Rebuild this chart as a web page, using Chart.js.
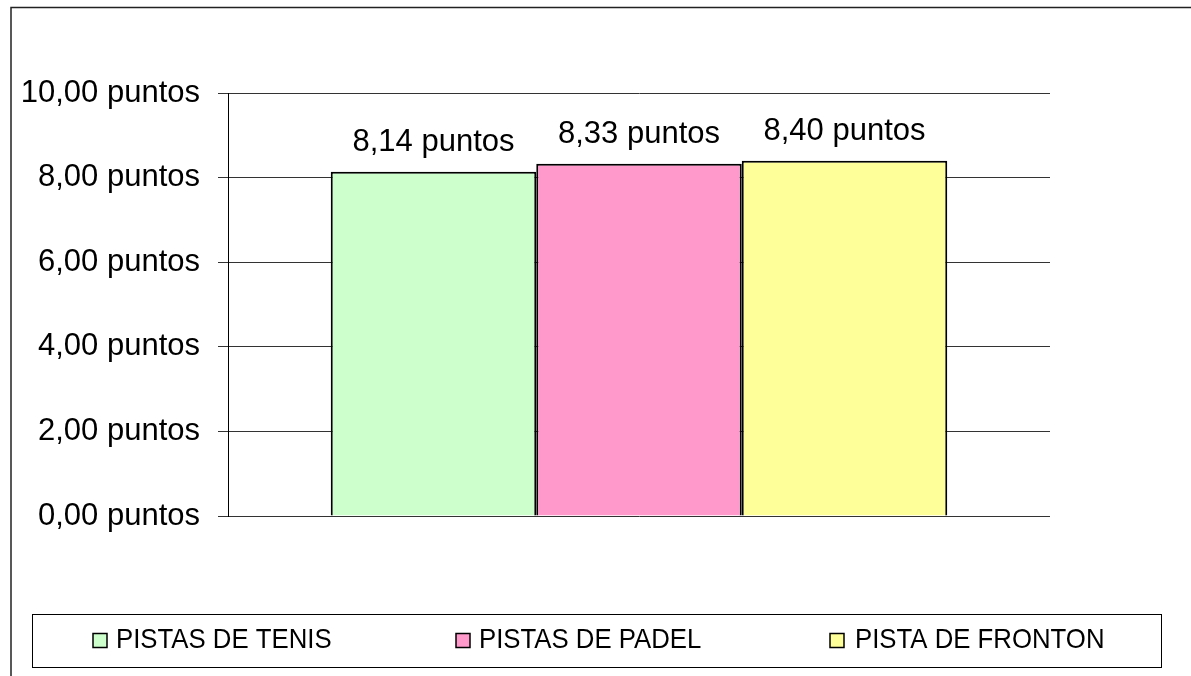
<!DOCTYPE html>
<html>
<head>
<meta charset="utf-8">
<script src="https://cdn.jsdelivr.net/npm/chart.js@4.4.1/dist/chart.umd.min.js"></script>
<style>
    html, body { margin: 0; padding: 0; background: #fff; }
    #wrap { width: 1191px; height: 676px; }
</style>
</head>
<body>
<div id="wrap"><canvas id="puntosChart" width="1191" height="676"></canvas></div>
<script>
// Datos del grafico
const categories = [''];
const seriesNames = ['PISTAS DE TENIS', 'PISTAS DE PADEL', 'PISTA DE FRONTON'];
const seriesValues = [8.14, 8.33, 8.40];
const yTicks = [0, 2, 4, 6, 8, 10];

const fillColors = ['#CCFFCC', '#FF99CC', '#FFFF99'];
const FONT = '"Liberation Sans", Arial, sans-serif';

const fmtPuntos = v => v.toFixed(2).replace('.', ',') + ' puntos';

// Marco exterior (recortado a derecha y abajo como en el original)
const framePlugin = {
    id: 'frame',
    beforeDraw(chart) {
        const ctx = chart.ctx;
        ctx.save();
        ctx.fillStyle = '#fff';
        ctx.fillRect(0, 0, chart.width, chart.height);
        ctx.strokeStyle = '#222';
        ctx.lineWidth = 1.5;
        ctx.strokeRect(11, 7.5, 1400, 1000);
        ctx.restore();
    }
};

// Etiquetas encima de cada barra
const valueLabels = {
    id: 'valueLabels',
    afterDatasetsDraw(chart) {
        const ctx = chart.ctx;
        ctx.save();
        ctx.font = '31px ' + FONT;
        ctx.fillStyle = '#000';
        ctx.textAlign = 'center';
        ctx.textBaseline = 'alphabetic';
        chart.data.datasets.forEach((ds, i) => {
            const bar = chart.getDatasetMeta(i).data[0];
            ctx.fillText(fmtPuntos(ds.data[0]), bar.x, bar.y - 21);
        });
        ctx.restore();
    }
};

// Leyenda con recuadro, estilo Excel
const boxLegend = {
    id: 'boxLegend',
    afterDraw(chart) {
        const ctx = chart.ctx;
        const boxX = [93, 456, 830];
        const textX = [116, 479, 855];
        ctx.save();
        ctx.strokeStyle = '#000';
        ctx.lineWidth = 1;
        ctx.strokeRect(32.5, 614.5, 1129, 53);
        ctx.font = '28px ' + FONT;
        ctx.textBaseline = 'alphabetic';
        chart.data.datasets.forEach((ds, i) => {
            const x = boxX[i];
            ctx.fillStyle = ds.backgroundColor;
            ctx.fillRect(x, 633.5, 14, 14);
            ctx.strokeStyle = '#000';
            ctx.lineWidth = 1.5;
            ctx.strokeRect(x, 633.5, 14, 14);
            ctx.fillStyle = '#000';
            ctx.save();
            ctx.translate(textX[i], 648);
            ctx.scale(0.92, 1);
            ctx.fillText(ds.label, 0, 0);
            ctx.restore();
        });
        ctx.restore();
    }
};

new Chart(document.getElementById('puntosChart'), {
    type: 'bar',
    data: {
        labels: categories,
        datasets: seriesNames.map((name, i) => ({
            label: name,
            data: [seriesValues[i]],
            backgroundColor: fillColors[i],
            borderColor: '#000',
            borderWidth: 2,
            categoryPercentage: 0.75,
            barPercentage: 1
        }))
    },
    options: {
        responsive: false,
        animation: false,
        layout: { padding: { top: 93, right: 141, bottom: 160, left: 0 } },
        plugins: {
            legend: { display: false },
            tooltip: { enabled: false }
        },
        scales: {
            x: { display: false },
            y: {
                min: 0,
                max: 10,
                afterBuildTicks: axis => { axis.ticks = yTicks.map(v => ({ value: v })); },
                afterFit: axis => { axis.width = 228; },
                ticks: {
                    color: '#000',
                    padding: 18,
                    font: { family: FONT, size: 31 },
                    callback: v => fmtPuntos(v)
                },
                grid: { color: '#333', lineWidth: 1, tickLength: 10 },
                border: { color: '#000', width: 1 }
            }
        }
    },
    plugins: [framePlugin, valueLabels, boxLegend]
});
</script>
</body>
</html>
